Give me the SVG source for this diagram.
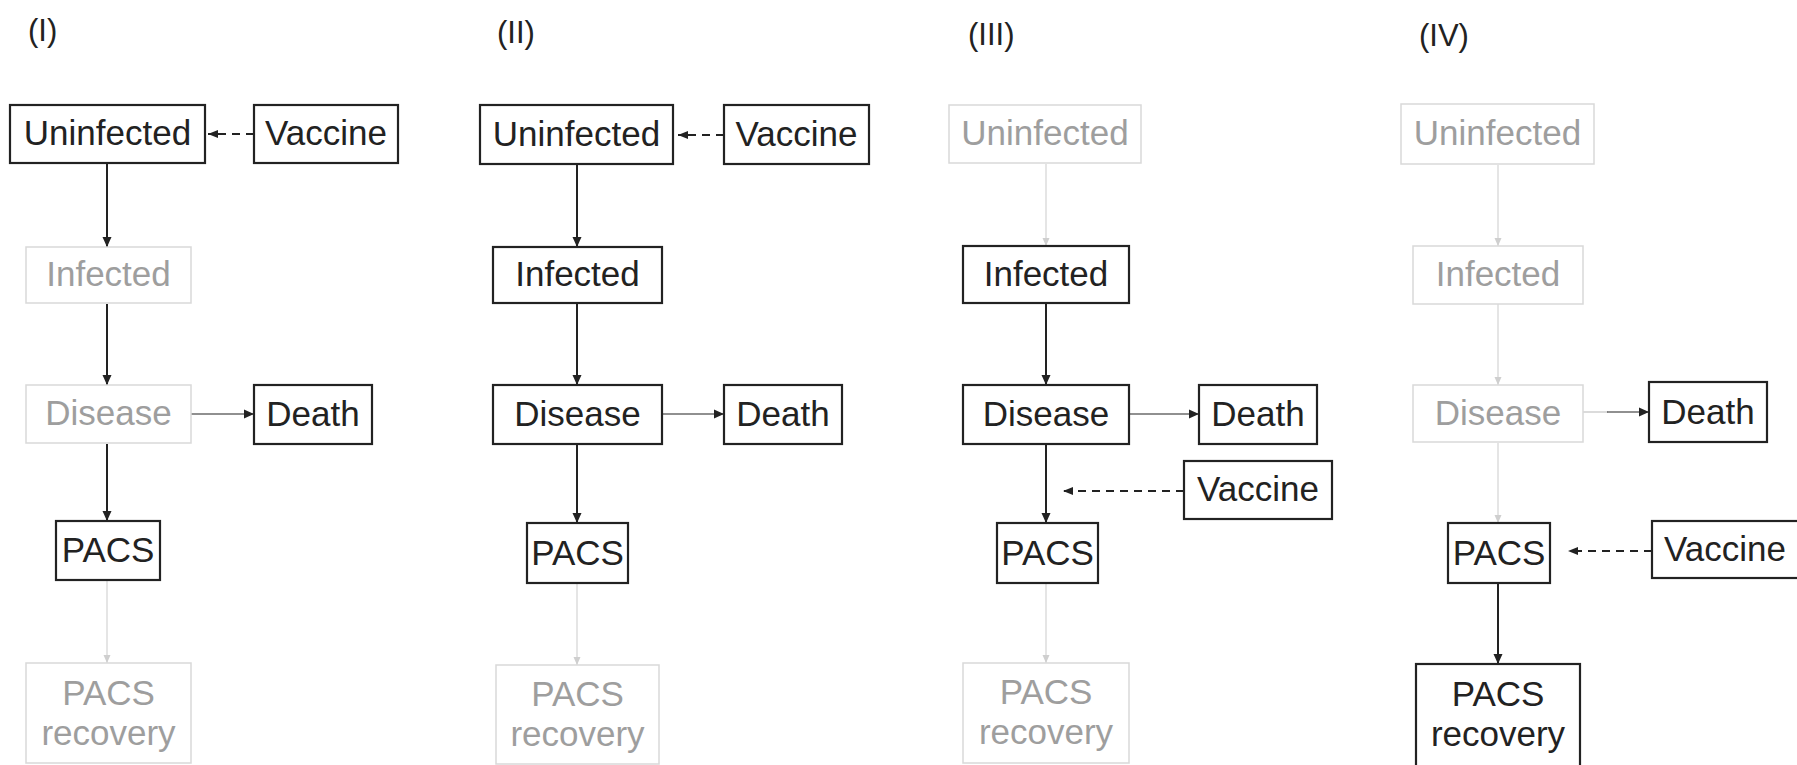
<svg xmlns="http://www.w3.org/2000/svg" width="1797" height="765" viewBox="0 0 1797 765">
<style>
  text { font-family: "Liberation Sans", Arial, sans-serif; font-size: 35px; text-anchor: middle; }
  .lbl { font-size: 31px; text-anchor: start; fill: #222; }
  .dk rect { fill: #fff; stroke: #222; stroke-width: 2.2; }
  .dk text { fill: #222; }
  .gr rect { fill: #fff; stroke: #d9d9d9; stroke-width: 1.5; }
  .gr text { fill: #9e9e9e; }
  .a { stroke: #222; stroke-width: 2; fill: none; marker-end: url(#ad); }
  .at { stroke: #222; stroke-width: 1.2; fill: none; marker-end: url(#ad); }
  .ag { stroke: #dcdcdc; stroke-width: 1.5; fill: none; marker-end: url(#ag); }
  .agt { stroke: #cfcfcf; stroke-width: 1.5; fill: none; }
  .ad { stroke: #222; stroke-width: 2; fill: none; stroke-dasharray: 8 6; marker-end: url(#as); }
</style>
<defs>
  <marker id="ad" markerUnits="userSpaceOnUse" markerWidth="10" markerHeight="10" refX="10" refY="5" orient="auto">
    <path d="M0,0.5 L10,5 L0,9.5 z" fill="#222"/>
  </marker>
  <marker id="as" markerUnits="userSpaceOnUse" markerWidth="10" markerHeight="9" refX="10" refY="4.5" orient="auto">
    <path d="M0,0.5 L10,4.5 L0,8.5 z" fill="#222"/>
  </marker>
  <marker id="ag" markerUnits="userSpaceOnUse" markerWidth="8" markerHeight="8" refX="8" refY="4" orient="auto">
    <path d="M0,0.5 L8,4 L0,7.5 z" fill="#cfcfcf"/>
  </marker>
</defs>

<rect width="1797" height="765" fill="#fff"/>

<g id="labels">
  <text class="lbl" x="28" y="41">(I)</text>
  <text class="lbl" x="497" y="43">(II)</text>
  <text class="lbl" x="968" y="45">(III)</text>
  <text class="lbl" x="1419" y="46">(IV)</text>
</g>

<g id="connectors">
  <!-- Panel I -->
  <line class="ad" x1="254" y1="134" x2="208" y2="134"/>
  <line class="a" x1="107" y1="164" x2="107" y2="247"/>
  <line class="a" x1="107" y1="304" x2="107" y2="385"/>
  <line class="at" x1="191" y1="414" x2="254" y2="414"/>
  <line class="a" x1="107" y1="444" x2="107" y2="521"/>
  <line class="ag" x1="107" y1="581" x2="107" y2="663"/>
  <!-- Panel II -->
  <line class="ad" x1="724" y1="135" x2="678" y2="135"/>
  <line class="a" x1="577" y1="165" x2="577" y2="247"/>
  <line class="a" x1="577" y1="304" x2="577" y2="385"/>
  <line class="at" x1="662" y1="414" x2="724" y2="414"/>
  <line class="a" x1="577" y1="445" x2="577" y2="523"/>
  <line class="ag" x1="577" y1="584" x2="577" y2="665"/>
  <!-- Panel III -->
  <line class="ag" x1="1046" y1="164" x2="1046" y2="246"/>
  <line class="a" x1="1046" y1="304" x2="1046" y2="385"/>
  <line class="at" x1="1129" y1="414" x2="1199" y2="414"/>
  <line class="ad" x1="1184" y1="491" x2="1063" y2="491"/>
  <line class="a" x1="1046" y1="445" x2="1046" y2="523"/>
  <line class="ag" x1="1046" y1="584" x2="1046" y2="663"/>
  <!-- Panel IV -->
  <line class="ag" x1="1498" y1="165" x2="1498" y2="246"/>
  <line class="ag" x1="1498" y1="304" x2="1498" y2="385"/>
  <line class="agt" x1="1583" y1="412" x2="1608" y2="412"/>
  <line class="at" x1="1607" y1="412" x2="1649" y2="412"/>
  <line class="ag" x1="1498" y1="443" x2="1498" y2="523"/>
  <line class="ad" x1="1652" y1="551" x2="1568" y2="551"/>
  <line class="a" x1="1498" y1="584" x2="1498" y2="664"/>
</g>

<!-- Panel I nodes -->
<g id="p1-uninfected" class="dk"><rect x="10" y="105" width="195" height="58"/><text x="107.5" y="145">Uninfected</text></g>
<g id="p1-vaccine" class="dk"><rect x="254" y="105" width="144" height="58"/><text x="326" y="145">Vaccine</text></g>
<g id="p1-infected" class="gr"><rect x="26" y="247" width="165" height="56"/><text x="108.5" y="286">Infected</text></g>
<g id="p1-disease" class="gr"><rect x="26" y="385" width="165" height="58"/><text x="108.5" y="425">Disease</text></g>
<g id="p1-death" class="dk"><rect x="254" y="385" width="118" height="59"/><text x="313" y="426">Death</text></g>
<g id="p1-pacs" class="dk"><rect x="56" y="521" width="104" height="59"/><text x="108" y="562">PACS</text></g>
<g id="p1-recovery" class="gr"><rect x="26" y="663" width="165" height="100"/><text x="108.5" y="705">PACS</text><text x="108.5" y="745">recovery</text></g>

<!-- Panel II nodes -->
<g id="p2-uninfected" class="dk"><rect x="480" y="105" width="193" height="59"/><text x="576.5" y="146">Uninfected</text></g>
<g id="p2-vaccine" class="dk"><rect x="724" y="105" width="145" height="59"/><text x="796.5" y="146">Vaccine</text></g>
<g id="p2-infected" class="dk"><rect x="493" y="247" width="169" height="56"/><text x="577.5" y="286">Infected</text></g>
<g id="p2-disease" class="dk"><rect x="493" y="385" width="169" height="59"/><text x="577.5" y="426">Disease</text></g>
<g id="p2-death" class="dk"><rect x="724" y="385" width="118" height="59"/><text x="783" y="426">Death</text></g>
<g id="p2-pacs" class="dk"><rect x="527" y="523" width="101" height="60"/><text x="577.5" y="565">PACS</text></g>
<g id="p2-recovery" class="gr"><rect x="496" y="665" width="163" height="99"/><text x="577.5" y="706">PACS</text><text x="577.5" y="746">recovery</text></g>

<!-- Panel III nodes -->
<g id="p3-uninfected" class="gr"><rect x="949" y="105" width="192" height="58"/><text x="1045" y="145">Uninfected</text></g>
<g id="p3-infected" class="dk"><rect x="963" y="246" width="166" height="57"/><text x="1046" y="286">Infected</text></g>
<g id="p3-disease" class="dk"><rect x="963" y="385" width="166" height="59"/><text x="1046" y="426">Disease</text></g>
<g id="p3-death" class="dk"><rect x="1199" y="385" width="118" height="59"/><text x="1258" y="426">Death</text></g>
<g id="p3-vaccine" class="dk"><rect x="1184" y="461" width="148" height="58"/><text x="1258" y="501">Vaccine</text></g>
<g id="p3-pacs" class="dk"><rect x="997" y="523" width="101" height="60"/><text x="1047.5" y="565">PACS</text></g>
<g id="p3-recovery" class="gr"><rect x="963" y="663" width="166" height="100"/><text x="1046" y="704">PACS</text><text x="1046" y="744">recovery</text></g>

<!-- Panel IV nodes -->
<g id="p4-uninfected" class="gr"><rect x="1401" y="104" width="193" height="60"/><text x="1497.5" y="145">Uninfected</text></g>
<g id="p4-infected" class="gr"><rect x="1413" y="246" width="170" height="58"/><text x="1498" y="286">Infected</text></g>
<g id="p4-disease" class="gr"><rect x="1413" y="385" width="170" height="57"/><text x="1498" y="425">Disease</text></g>
<g id="p4-death" class="dk"><rect x="1649" y="382" width="118" height="60"/><text x="1708" y="424">Death</text></g>
<g id="p4-pacs" class="dk"><rect x="1448" y="523" width="102" height="60"/><text x="1499" y="565">PACS</text></g>
<g id="p4-vaccine" class="dk"><rect x="1652" y="521" width="160" height="57"/><text x="1664" y="561" style="text-anchor:start">Vaccine</text></g>
<g id="p4-recovery" class="dk"><rect x="1416" y="664" width="164" height="110"/><text x="1498" y="706">PACS</text><text x="1498" y="746">recovery</text></g>
</svg>
